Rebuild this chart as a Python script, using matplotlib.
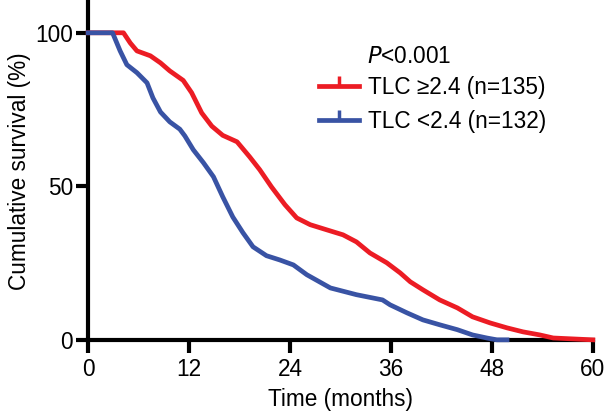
import matplotlib
matplotlib.use("Agg")
import matplotlib.pyplot as plt
from matplotlib.lines import Line2D

plt.rcParams['font.family'] = ['Liberation Sans', 'DejaVu Sans']

# survival curves (months, % surviving)
high_t = [0, 4.2, 5.0, 5.8, 7.4, 8.6, 9.7, 11.3, 12.3, 13.5, 14.7, 16.0, 17.7, 19.2,
          20.4, 21.8, 23.4, 24.8, 26.4, 28.4, 30.3, 31.9, 33.5, 35.5, 37.1, 38.3,
          39.8, 41.8, 43.9, 45.7, 47.8, 49.8, 51.7, 53.7, 55.3, 60]
high_s = [100, 100, 96.7, 94.1, 92.5, 90.2, 87.6, 84.5, 80.5, 73.9, 69.6, 66.6, 64.5, 59.6,
          55.4, 49.8, 44.0, 39.7, 37.5, 35.8, 34.2, 31.9, 28.3, 25.1, 21.8, 18.9,
          16.3, 13.0, 10.4, 7.5, 5.5, 3.9, 2.6, 1.6, 0.6, 0]

low_t = [0, 2.9, 3.8, 4.6, 5.8, 7.0, 7.7, 8.6, 9.7, 10.9, 11.5, 12.5, 13.7, 14.9,
         16.0, 17.2, 18.4, 19.6, 21.2, 22.8, 24.4, 26.0, 28.8, 31.9, 35.0, 35.9,
         37.9, 39.8, 41.8, 43.9, 45.7, 47.4, 48.6, 49.8]
low_s = [100, 100, 94.1, 89.6, 87.0, 83.7, 78.8, 74.2, 71.0, 68.6, 66.4, 61.9, 57.7, 53.1,
         46.6, 40.0, 34.9, 30.3, 27.4, 26.0, 24.4, 21.2, 16.9, 14.7, 13.0, 11.4,
         8.8, 6.5, 4.9, 3.3, 1.6, 0.6, 0, 0]

labels = ['TLC \u22652.4 (n=135)', 'TLC <2.4 (n=132)']
colors = ['#EC1C24', '#3953A4']
p_text = '<0.001'
x_ticks = [0, 12, 24, 36, 48, 60]
y_ticks = [0, 50, 100]

fs = 16.3

fig = plt.figure(figsize=(6.08, 4.18), dpi=100)
ax = fig.add_axes([0.145, 0.187, 0.83, 0.808])

ax.plot(high_t, high_s, color=colors[0], lw=3.4, zorder=3, clip_on=False)
ax.plot(low_t, low_s, color=colors[1], lw=3.4, zorder=3, clip_on=False)

ax.set_xlim(0, 60)
ax.set_ylim(0, 110)
ax.set_xticks(x_ticks)
ax.set_yticks(y_ticks)
for side in ['top', 'right']:
    ax.spines[side].set_visible(False)
for side in ['left', 'bottom']:
    ax.spines[side].set_linewidth(3)
ax.tick_params(direction='out', length=9, width=3, labelsize=fs)
ax.tick_params(axis='x', pad=4)
ax.tick_params(axis='y', pad=2)

ax.set_xlabel('Time (months)', fontsize=fs, labelpad=5)
ax.set_ylabel('Cumulative survival (%)', fontsize=fs, labelpad=3)

handles = [Line2D([0], [0], color=c, lw=3.4, marker=2, markersize=7,
                  markeredgewidth=2.5) for c in colors]
leg = ax.legend(handles, labels, loc='upper left', bbox_to_anchor=(0.44, 0.808),
                frameon=False, fontsize=fs, handlelength=1.75, handletextpad=0.4,
                labelspacing=0.5, numpoints=1, borderaxespad=0)
ax.text(0.553, 0.806, r'$\it{P}$' + p_text, transform=ax.transAxes,
        fontsize=fs, va='bottom', ha='left')

fig.savefig('out.png', dpi=100)
